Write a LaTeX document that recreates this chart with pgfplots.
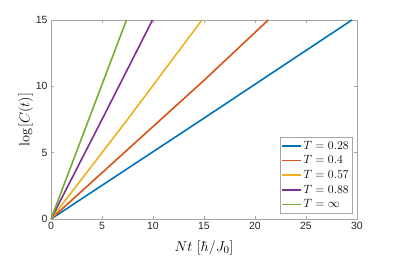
\documentclass[border=0pt]{standalone}
\usepackage[no-math]{fontspec}
\setsansfont{Liberation Sans}
\usepackage{pgfplots}
\pgfplotsset{compat=1.18}
\definecolor{mblue}{rgb}{0,0.447,0.741}
\definecolor{mred}{rgb}{0.85,0.325,0.098}
\definecolor{myellow}{rgb}{0.929,0.694,0.125}
\definecolor{mpurple}{rgb}{0.494,0.184,0.556}
\definecolor{mgreen}{rgb}{0.466,0.674,0.188}
\begin{document}
\begin{tikzpicture}
\path[use as bounding box] (-51bp,-44bp) rectangle (344bp,219bp);
\begin{axis}[
  scale only axis, width=306bp, height=199bp,
  at={(0,0)}, anchor=south west,
  xmin=0, xmax=30, ymin=0, ymax=15,
  xtick={0,5,...,30}, ytick={0,5,10,15},
  axis line style={draw=black!35, line width=0.5pt},
  tick style={draw=black!35, line width=0.5pt},
  major tick length=3bp,
  tick align=inside,
  /pgf/number format/assume math mode=true,
  tick label style={font=\sffamily\fontsize{10.5}{12}\selectfont, text=black!85},
  xlabel={$Nt~[\hbar/J_0]$},
  ylabel={$\log[C(t)]$},
  label style={font=\fontsize{15}{18}\selectfont},
  xlabel style={yshift=-3.5bp},
  ylabel style={yshift=-4bp},
  legend style={at={(0.985,0.03)}, anchor=south east, draw=black!35, font=\fontsize{11.5}{13}\selectfont, row sep=1pt, inner sep=1.5pt},
  legend cell align=left,
  legend image code/.code={\draw[#1, line width=1.8pt] (0cm,0cm) -- (0.65cm,0cm);},
]
\addplot[mblue, line width=1.6pt] coordinates {(0,0) (15,7.6) (29.5,15)};
\addlegendentry{$T=0.28$}
\addplot[mred, line width=1.6pt] coordinates {(0,0) (15,10.45) (21.3,15)};
\addlegendentry{$T=0.4$}
\addplot[myellow, line width=1.6pt] coordinates {(0,0) (7.5,7.5) (14.8,15)};
\addlegendentry{$T=0.57$}
\addplot[mpurple, line width=1.6pt] coordinates {(0,0) (5,7.5) (9.95,15)};
\addlegendentry{$T=0.88$}
\addplot[mgreen, line width=1.6pt] coordinates {(0,0) (3.7,7.5) (7.4,15)};
\addlegendentry{$T=\infty$}
\end{axis}
\end{tikzpicture}
\end{document}
